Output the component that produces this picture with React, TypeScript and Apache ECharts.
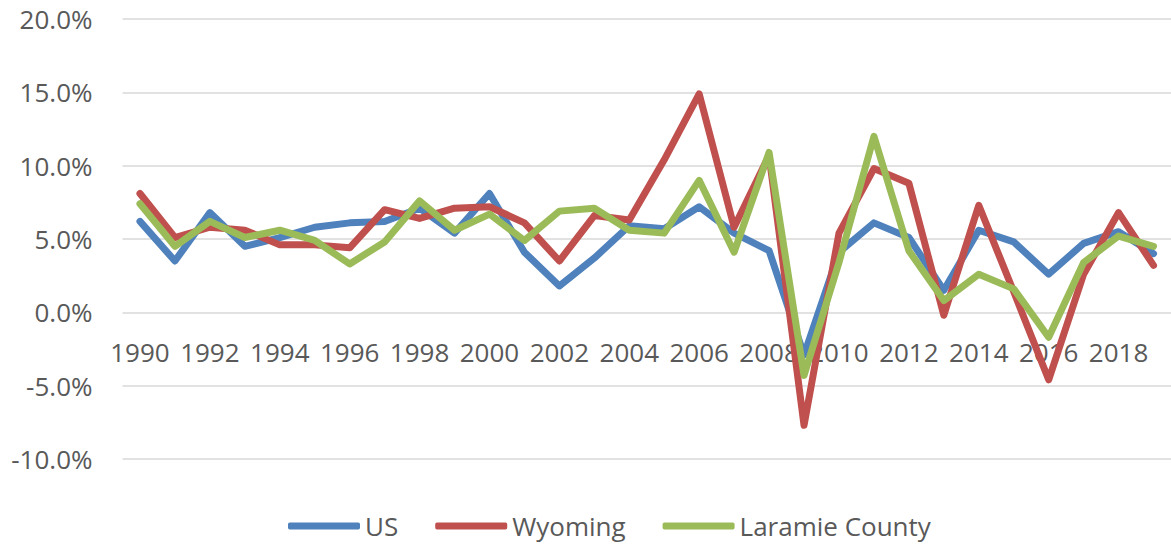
import React, { useEffect, useRef } from "react";
import * as echarts from "echarts";

const years = [
  "1990", "1991", "1992", "1993", "1994", "1995", "1996", "1997", "1998", "1999",
  "2000", "2001", "2002", "2003", "2004", "2005", "2006", "2007", "2008", "2009",
  "2010", "2011", "2012", "2013", "2014", "2015", "2016", "2017", "2018", "2019",
];

const usValues = [
  6.2, 3.5, 6.8, 4.5, 5.1, 5.8, 6.1, 6.2, 7.1, 5.4,
  8.1, 4.1, 1.8, 3.7, 5.9, 5.7, 7.2, 5.4, 4.2, -2.9,
  4.1, 6.1, 5.1, 1.5, 5.6, 4.8, 2.6, 4.7, 5.5, 4.0,
];

const wyomingValues = [
  8.1, 5.1, 5.8, 5.6, 4.6, 4.6, 4.4, 7.0, 6.4, 7.1,
  7.2, 6.1, 3.5, 6.6, 6.3, 10.4, 14.9, 5.8, 10.7, -7.7,
  5.4, 9.8, 8.8, -0.2, 7.3, 1.4, -4.6, 2.6, 6.8, 3.2,
];

const laramieValues = [
  7.4, 4.5, 6.2, 5.1, 5.6, 4.9, 3.3, 4.8, 7.6, 5.6,
  6.7, 4.9, 6.9, 7.1, 5.6, 5.4, 9.0, 4.1, 10.9, -4.3,
  3.4, 12.0, 4.2, 0.8, 2.6, 1.6, -1.7, 3.4, 5.2, 4.5,
];

const seriesNames = ["US", "Wyoming", "Laramie County"];
const seriesColors = ["#4F81BD", "#C0504D", "#9BBB59"];

const FONT = "'Open Sans', 'Noto Sans', sans-serif";
const TEXT_COLOR = "#595959";

const Y_MIN = -10;
const Y_MAX = 20;
const GRID_TOP = 19;
const GRID_BOTTOM = 86;
const HEIGHT = 545;

export default function App() {
  const ref = useRef<HTMLDivElement>(null);

  useEffect(() => {
    if (!ref.current) return;
    const chart = echarts.init(ref.current, undefined, { renderer: "svg" });
    const allData = [usValues, wyomingValues, laramieValues];
    const gridH = HEIGHT - GRID_TOP - GRID_BOTTOM;
    const zeroOffset = -(gridH * (0 - Y_MIN)) / (Y_MAX - Y_MIN);
    chart.setOption({
      animation: false,
      backgroundColor: "#ffffff",
      textStyle: { fontFamily: FONT },
      grid: { left: 122.5, top: GRID_TOP, width: 1053, bottom: GRID_BOTTOM, containLabel: false },
      legend: {
        left: 283,
        top: 508,
        itemWidth: 72,
        itemHeight: 7,
        itemGap: 37,
        icon: "roundRect",
        textStyle: { fontFamily: FONT, fontSize: 26, color: TEXT_COLOR },
        data: seriesNames,
      },
      xAxis: {
        type: "category",
        data: years,
        boundaryGap: true,
        offset: zeroOffset,
        axisLine: { show: false, onZero: false },
        axisTick: { show: false },
        axisLabel: {
          interval: 1,
          margin: 27,
          fontFamily: FONT,
          fontSize: 26,
          color: TEXT_COLOR,
        },
        splitLine: { show: false },
      },
      yAxis: {
        type: "value",
        min: Y_MIN,
        max: Y_MAX,
        interval: 5,
        axisLine: { show: false },
        axisTick: { show: false },
        axisLabel: {
          margin: 30,
          fontFamily: FONT,
          fontSize: 26,
          color: TEXT_COLOR,
          formatter: (v: number) => v.toFixed(1) + "%",
        },
        splitLine: { lineStyle: { color: "#d9d9d9", width: 1.5 } },
      },
      series: seriesNames.map((name, i) => ({
        name,
        type: "line",
        data: allData[i],
        showSymbol: false,
        symbol: "none",
        color: seriesColors[i],
        lineStyle: { width: 7, color: seriesColors[i], cap: "round", join: "round" },
        z: 2 + i,
      })),
    });
    return () => chart.dispose();
  }, []);

  return (
    <div
      ref={ref}
      style={{ position: "fixed", left: 0, top: 0, width: 1171, height: 545, overflow: "hidden" }}
    />
  );
}
